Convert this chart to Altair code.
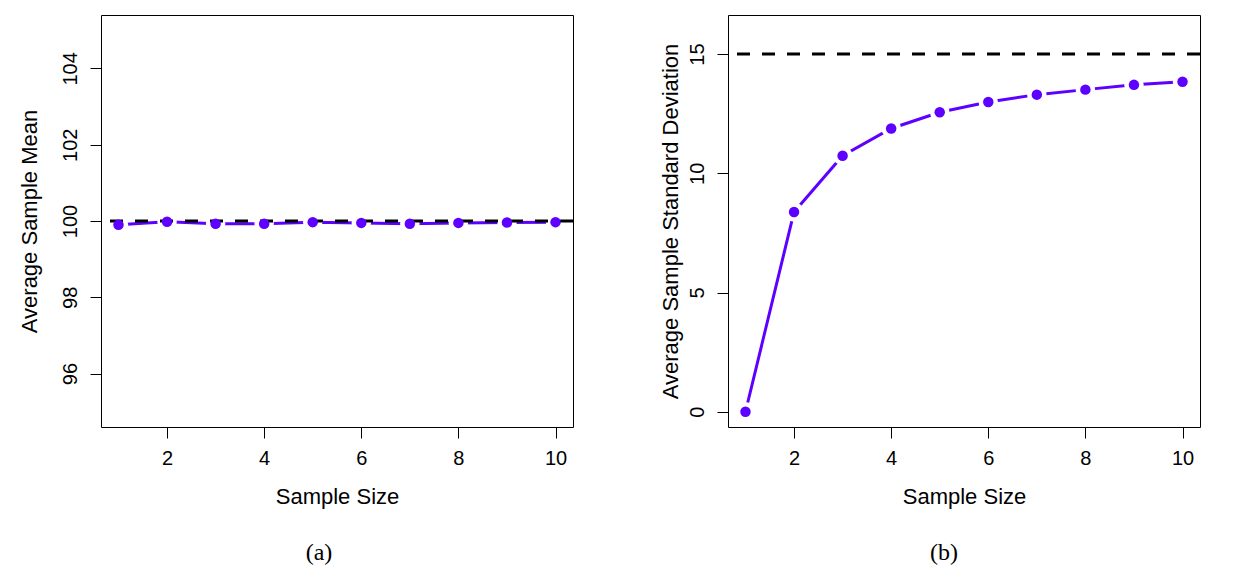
import altair as alt
import pandas as pd

sample_size = [1, 2, 3, 4, 5, 6, 7, 8, 9, 10]
avg_mean = [99.90, 99.98, 99.93, 99.93, 99.97, 99.95, 99.93, 99.95, 99.96, 99.97]
avg_sd = [0.0, 8.38, 10.74, 11.88, 12.56, 12.99, 13.30, 13.51, 13.71, 13.84]
true_mean = 100
true_sd = 15
x_ticks = [2, 4, 6, 8, 10]
mean_ticks = [96, 98, 100, 102, 104]
sd_ticks = [0, 5, 10, 15]

PURPLE = "#5D00FF"
FONT = "Liberation Sans"
W, H = 472, 412

df_mean = pd.DataFrame({"n": sample_size, "v": avg_mean})
df_sd = pd.DataFrame({"n": sample_size, "v": avg_sd})

xscale = alt.Scale(domain=[0.64, 10.36], nice=False, zero=False)


def panel(df, ydomain, yticks, ytitle, ref, caption, title_x, cap_x):
    x = alt.X("n:Q", scale=xscale,
              axis=alt.Axis(values=x_ticks, title="Sample Size", format="d",
                            labelBaseline="alphabetic", labelPadding=26,
                            titleBaseline="alphabetic", titleY=76, titleX=W / 2,
                            titleAlign="center"))
    y = alt.Y("v:Q", scale=alt.Scale(domain=ydomain, nice=False, zero=False),
              axis=alt.Axis(values=yticks, title=ytitle, format="d",
                            labelAngle=270, labelAlign="center",
                            labelBaseline="alphabetic", labelPadding=14,
                            titleAngle=270, titleAlign="center",
                            titleBaseline="alphabetic", titleX=title_x,
                            titleY=H / 2))
    base = alt.Chart(df)
    line = base.mark_line(color=PURPLE, strokeWidth=3).encode(x=x, y=y)
    halo = base.mark_circle(color="white", opacity=1, size=380).encode(x=x, y=y)
    rule = alt.Chart(pd.DataFrame({"r": [ref]})).mark_rule(
        color="black", strokeWidth=3, strokeDash=[13, 12]).encode(y="r:Q")
    dots = base.mark_circle(color=PURPLE, opacity=1, size=110).encode(x=x, y=y)
    cap = alt.Chart(pd.DataFrame({"t": [caption]})).mark_text(
        font="Liberation Serif", fontSize=24, baseline="alphabetic",
        align="center", color="black").encode(
        text="t:N", x=alt.value(cap_x), y=alt.value(545))
    return alt.layer(line, halo, rule, dots, cap).properties(width=W, height=H)


left = panel(df_mean, [94.6, 105.4], mean_ticks, "Average Sample Mean",
             true_mean, "(a)", -65, 218)
right = panel(df_sd, [-0.64, 16.64], sd_ticks, "Average Sample Standard Deviation",
              true_sd, "(b)", -51, 216)

chart = alt.hconcat(left, right, spacing=83).properties(
    padding={"left": 17, "top": 14, "right": 5, "bottom": 5}
).configure(font=FONT, background="white").configure_view(
    stroke="black", strokeWidth=1
).configure_axis(
    grid=False, domain=False, ticks=True, tickColor="black", tickSize=11,
    tickWidth=1, labelColor="black", labelFont=FONT, labelFontSize=20,
    titleColor="black", titleFont=FONT, titleFontSize=22, titleFontWeight="normal",
)

chart.save("out.html", embed_options={"renderer": "svg", "actions": False})
